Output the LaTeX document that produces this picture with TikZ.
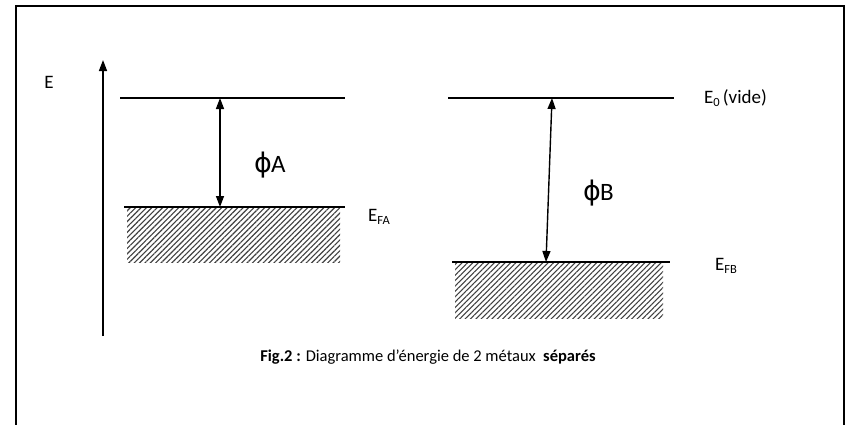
\documentclass[tikz,border=0pt]{standalone}
\usepackage{fontspec}
\setmainfont{Carlito}
\newfontfamily\dejavu{DejaVu Sans}
\usetikzlibrary{arrows.meta,patterns.meta}
\tikzset{
  level/.style={line width=1.2pt},
  fermi/.style={line width=1.7pt},
  hatch/.style={pattern={Lines[angle=45,distance=3.8pt,line width=1.1pt]},pattern color=black!75},
  dbl/.style={line width=1.4pt,{Triangle[width=8pt,length=11pt]}-{Triangle[width=8pt,length=11pt]}},
  lbl/.style={inner sep=0pt,font=\fontsize{19}{22}\selectfont},
  phil/.style={inner sep=0pt,font=\fontsize{25}{28}\selectfont},
}
\newcommand{\lsub}[1]{\raisebox{-0.35ex}{\fontsize{12.5}{14}\selectfont #1}}
\newcommand{\phisym}{{\dejavu\fontsize{27}{30}\selectfont ϕ}}
\begin{document}
\begin{tikzpicture}[x=1pt,y=-1pt]
\useasboundingbox (0,0) rectangle (848,424);
% frame
\draw[line width=1.2pt] (16,430) -- (16,6) -- (844,6) -- (844,430);
% energy axis
\coordinate (ax0) at (103,336);
\coordinate (ax1) at (103,60);
\draw[line width=1.4pt,-{Triangle[width=8pt,length=11pt]}] (ax0) -- (ax1);
\node[lbl] (E) at (49,82) {E};
% metal A
\coordinate (a1) at (120,98); \coordinate (a2) at (345,98);
\draw[level] (a1) -- (a2);
\fill[hatch] (127,208) rectangle (340,262);
\coordinate (fa1) at (124,207); \coordinate (fa2) at (345,207);
\draw[fermi] (fa1) -- (fa2);
\coordinate (pa0) at (220,98); \coordinate (pa1) at (220,207);
\draw[dbl] (pa0) -- (pa1);
\node[phil,anchor=base west] (phiA) at (254,172) {\phisym\kern-1pt A};
\node[lbl,anchor=west] (EFA) at (368,217) {E\lsub{FA}};
% metal B
\coordinate (b1) at (448,98); \coordinate (b2) at (674,98);
\draw[level] (b1) -- (b2);
\fill[hatch] (455,263) rectangle (663,318);
\coordinate (fb1) at (452,262); \coordinate (fb2) at (670,262);
\draw[fermi] (fb1) -- (fb2);
\coordinate (pb0) at (552,98); \coordinate (pb1) at (546,262);
\draw[dbl] (pb0) -- (pb1);
\node[phil,anchor=base west] (phiB) at (583,200) {\phisym\kern-1pt B};
\node[lbl,anchor=west] (E0) at (704,98) {E\lsub{0}\,(vide)};
\node[lbl,anchor=west] (EFB) at (715,266) {E\lsub{FB}};
% caption
\node[inner sep=0pt,font=\fontsize{16.5}{19}\selectfont] (cap) at (428,357)
  {\textbf{Fig.2 :} Diagramme d’énergie de 2 métaux\ \ \textbf{séparés}};
\end{tikzpicture}
\end{document}
